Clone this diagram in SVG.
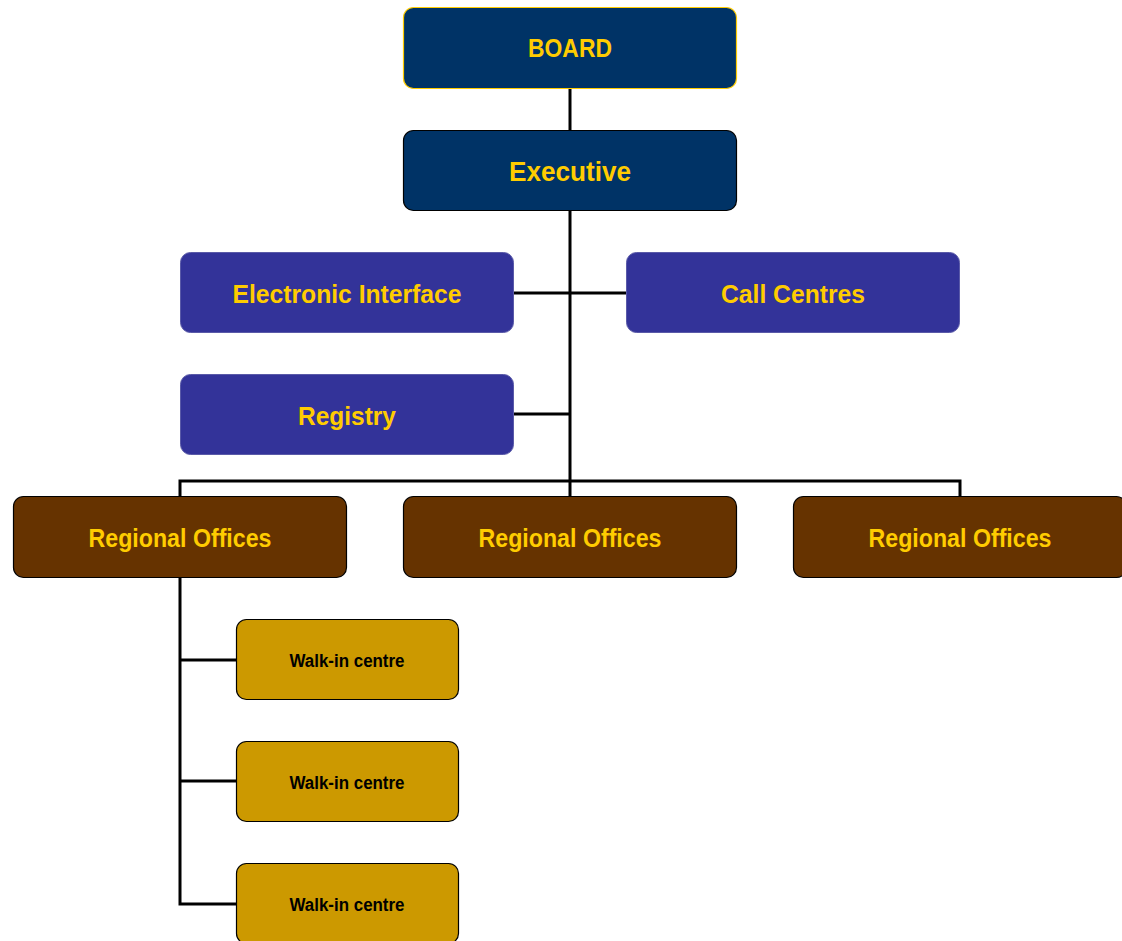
<svg xmlns="http://www.w3.org/2000/svg" width="1122" height="941" viewBox="0 0 1122 941">
  <style>
    text { font-family: "Liberation Sans", Arial, sans-serif; font-weight: bold; text-anchor: middle; }
    .lbl { fill: #FFCC00; font-size: 25px; }
    .navy { fill: #003366; }
    .purple { fill: #333399; stroke: #5a5aa8; stroke-width: 1; }
    .brown { fill: #663300; stroke: #000; stroke-width: 1.2; }
    .gold { fill: #CC9900; stroke: #000; stroke-width: 1.2; }
    .wlbl { fill: #000; font-size: 17.5px; }
    .conn { fill: none; stroke: #000; stroke-width: 3; }
  </style>
  <rect width="1122" height="941" fill="#fff"/>

  <g id="connectors">
    <line class="conn" x1="570" y1="89" x2="570" y2="130"/>
    <line class="conn" x1="570" y1="211" x2="570" y2="496"/>
    <line class="conn" x1="514" y1="293" x2="626" y2="293"/>
    <line class="conn" x1="514" y1="414" x2="570" y2="414"/>
    <polyline class="conn" points="180,496 180,481 960,481 960,496"/>
    <polyline class="conn" points="180,578 180,904 236,904"/>
    <line class="conn" x1="180" y1="660" x2="236" y2="660"/>
    <line class="conn" x1="180" y1="781" x2="236" y2="781"/>
  </g>

  <g id="board">
    <rect class="navy" x="403.5" y="7.5" width="333" height="81" rx="10" stroke="#FFCC00" stroke-width="1.2"/>
    <text class="lbl" x="570" y="57" textLength="84" lengthAdjust="spacingAndGlyphs">BOARD</text>
  </g>

  <g id="executive">
    <rect class="navy" x="403.5" y="130.5" width="333" height="80" rx="10" stroke="#000" stroke-width="1.2"/>
    <text class="lbl" x="570" y="181" style="font-size:27px" textLength="122" lengthAdjust="spacingAndGlyphs">Executive</text>
  </g>

  <g id="electronic-interface">
    <rect class="purple" x="180.5" y="252.5" width="333" height="80" rx="10"/>
    <text class="lbl" x="347" y="303" textLength="229" lengthAdjust="spacingAndGlyphs">Electronic Interface</text>
  </g>

  <g id="call-centres">
    <rect class="purple" x="626.5" y="252.5" width="333" height="80" rx="10"/>
    <text class="lbl" x="793" y="303" textLength="144" lengthAdjust="spacingAndGlyphs">Call Centres</text>
  </g>

  <g id="registry">
    <rect class="purple" x="180.5" y="374.5" width="333" height="80" rx="10"/>
    <text class="lbl" x="347" y="425" textLength="98" lengthAdjust="spacingAndGlyphs">Registry</text>
  </g>

  <g id="regional-1">
    <rect class="brown" x="13.5" y="496.5" width="333" height="81" rx="10"/>
    <text class="lbl" x="180" y="547" textLength="183" lengthAdjust="spacingAndGlyphs">Regional Offices</text>
  </g>

  <g id="regional-2">
    <rect class="brown" x="403.5" y="496.5" width="333" height="81" rx="10"/>
    <text class="lbl" x="570" y="547" textLength="183" lengthAdjust="spacingAndGlyphs">Regional Offices</text>
  </g>

  <g id="regional-3">
    <rect class="brown" x="793.5" y="496.5" width="333" height="81" rx="10"/>
    <text class="lbl" x="960" y="547" textLength="183" lengthAdjust="spacingAndGlyphs">Regional Offices</text>
  </g>

  <g id="walkin-1">
    <rect class="gold" x="236.5" y="619.5" width="222" height="80" rx="10"/>
    <text class="wlbl" x="347" y="667" textLength="115" lengthAdjust="spacingAndGlyphs">Walk-in centre</text>
  </g>

  <g id="walkin-2">
    <rect class="gold" x="236.5" y="741.5" width="222" height="80" rx="10"/>
    <text class="wlbl" x="347" y="789" textLength="115" lengthAdjust="spacingAndGlyphs">Walk-in centre</text>
  </g>

  <g id="walkin-3">
    <rect class="gold" x="236.5" y="863.5" width="222" height="80" rx="10"/>
    <text class="wlbl" x="347" y="911" textLength="115" lengthAdjust="spacingAndGlyphs">Walk-in centre</text>
  </g>
</svg>
